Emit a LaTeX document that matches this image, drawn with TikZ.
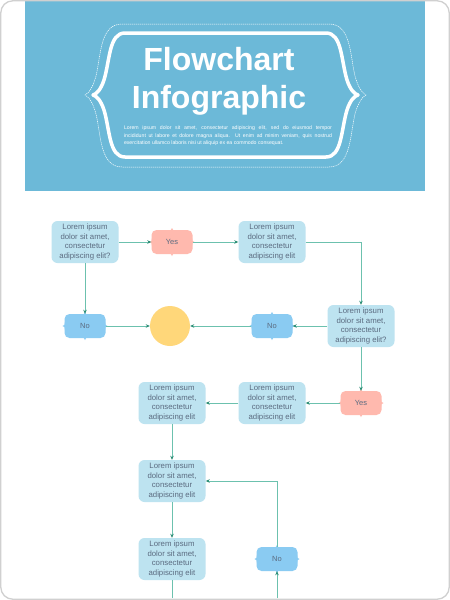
\documentclass[tikz,border=0pt]{standalone}
\usepackage{fontspec}
\setmainfont{Liberation Sans}
\usetikzlibrary{arrows.meta,calc}
\definecolor{bgblue}{HTML}{6CB9D8}
\definecolor{boxc}{HTML}{BDE3F0}
\definecolor{noc}{HTML}{8ACBF2}
\definecolor{yesc}{HTML}{FFB9AE}
\definecolor{circc}{HTML}{FFD77A}
\definecolor{linec}{HTML}{6CC1AE}
\definecolor{tipc}{HTML}{2A8C74}
\definecolor{txtc}{HTML}{5B6B80}
\definecolor{borderc}{HTML}{D0D0D0}
\newcommand\mybumps[2]{%
  \foreach \a/\r in {north/0,south/180,east/-90,west/90}{%
    \fill[#2,shift={(#1.\a)},rotate=\r] (-4,0.6) .. controls (-1,0.6) .. (0,-1.8) .. controls (1,0.6) .. (4,0.6) -- cycle;}}
\begin{document}
\begin{tikzpicture}[x=1pt,y=-1pt,
  box/.style={fill=boxc, rounded corners=6pt, minimum width=67pt, minimum height=42pt,
    inner sep=0pt, align=center, text=txtc, font=\fontsize{7.8}{9.5}\selectfont},
  tag/.style={rounded corners=5pt, minimum width=41pt, minimum height=24pt,
    inner sep=0pt, text=txtc, font=\fontsize{7.5}{9}\selectfont},
  conn/.style={draw=linec, line width=0.9pt},
  arr/.style={conn, -{Stealth[length=4pt,width=3.5pt,color=tipc]}}]
\useasboundingbox (0,0) rectangle (450,600);
\fill[white] (0,0) rectangle (450,600);
\fill[bgblue] (25,0) rectangle (425,191);
% title frame
\draw[white, line width=3.5pt, line join=round]
  (225,33) -- (125,33) .. controls (109,33) and (110,60) .. (104,80)
  .. controls (101,89) and (97,94) .. (93,95)
  .. controls (97,96) and (101,101) .. (104,110)
  .. controls (110,130) and (109,157) .. (125,157) -- (326,157)
  .. controls (342,157) and (341,130) .. (347,110)
  .. controls (350,101) and (354,96) .. (358,95)
  .. controls (354,94) and (350,89) .. (347,80)
  .. controls (341,60) and (342,33) .. (326,33) -- cycle;
\draw[white, line width=0.5pt, dash pattern=on 1.2pt off 0.8pt]
  (225,24) -- (122,24) .. controls (100,24) and (101,55) .. (96,76)
  .. controls (93,87) and (89,93) .. (85,95)
  .. controls (89,97) and (93,103) .. (96,114)
  .. controls (101,135) and (100,167) .. (122,167) -- (329,167)
  .. controls (351,167) and (350,135) .. (355,114)
  .. controls (358,103) and (362,97) .. (366,95)
  .. controls (362,93) and (358,87) .. (355,76)
  .. controls (350,55) and (351,24) .. (329,24) -- cycle;
\node[anchor=base, text=white, font=\fontsize{32}{38}\selectfont\bfseries] (t1) at (219,70) {Flowchart};
\node[anchor=base, text=white, font=\fontsize{32}{38}\selectfont\bfseries] (t2) at (219,108) {Infographic};
\node[text=white, text width=208pt, align=justify, inner sep=0pt, font=\fontsize{5.2}{7.5}\selectfont] (par) at (228,136)
  {Lorem ipsum dolor sit amet, consectetur adipiscing elit, sed do eiusmod tempor\linebreak incididunt ut labore et dolore magna aliqua. Ut enim ad minim veniam, quis nostrud\linebreak exercitation ullamco laboris nisi ut aliquip ex ea commodo consequat.};
% flowchart nodes
\node[box] (A) at (85,242) {Lorem ipsum\\dolor sit amet,\\consectetur\\adipiscing elit?};
\node[tag, fill=yesc] (Y1) at (172,242) {Yes};
\mybumps{Y1}{yesc}
\node[box] (B) at (272,242) {Lorem ipsum\\dolor sit amet,\\consectetur\\adipiscing elit};
\node[box] (C) at (361,326) {Lorem ipsum\\dolor sit amet,\\consectetur\\adipiscing elit?};
\node[tag, fill=noc] (N1) at (272,326) {No};
\mybumps{N1}{noc}
\node[circle, fill=circc, minimum size=40pt, inner sep=0pt] (O) at (170,326) {};
\node[tag, fill=noc] (N2) at (85,326) {No};
\mybumps{N2}{noc}
\node[tag, fill=yesc] (Y2) at (361,403) {Yes};
\mybumps{Y2}{yesc}
\node[box] (D) at (272,403) {Lorem ipsum\\dolor sit amet,\\consectetur\\adipiscing elit};
\node[box] (E) at (172,403) {Lorem ipsum\\dolor sit amet,\\consectetur\\adipiscing elit};
\node[box] (F) at (172,481) {Lorem ipsum\\dolor sit amet,\\consectetur\\adipiscing elit};
\node[box] (G) at (172,559) {Lorem ipsum\\dolor sit amet,\\consectetur\\adipiscing elit};
\node[tag, fill=noc] (N3) at (277,559) {No};
\mybumps{N3}{noc}
\coordinate (gEnd) at (172,598);
\coordinate (nStart) at (277,598);
% connectors
\draw[arr] (A.east) -- (Y1.west);
\draw[arr] (Y1.east) -- (B.west);
\draw[arr] (B.east) -| (C.north);
\draw[arr] (A.south) -- (N2.north);
\draw[arr] (N2.east) -- (O.west);
\draw[arr] (N1.west) -- (O.east);
\draw[arr] (C.west) -- (N1.east);
\draw[arr] (C.south) -- (Y2.north);
\draw[arr] (Y2.west) -- (D.east);
\draw[arr] (D.west) -- (E.east);
\draw[arr] (E.south) -- (F.north);
\draw[arr] (F.south) -- (G.north);
\draw[conn] (G.south) -- (gEnd);
\draw[arr] (nStart) -- (N3.south);
\draw[arr] (N3.north) |- (F.east);
% page border
\draw[borderc, line width=1.3pt, rounded corners=12pt] (0.8,0.8) rectangle (449.2,599.2);
\end{tikzpicture}
\end{document}
